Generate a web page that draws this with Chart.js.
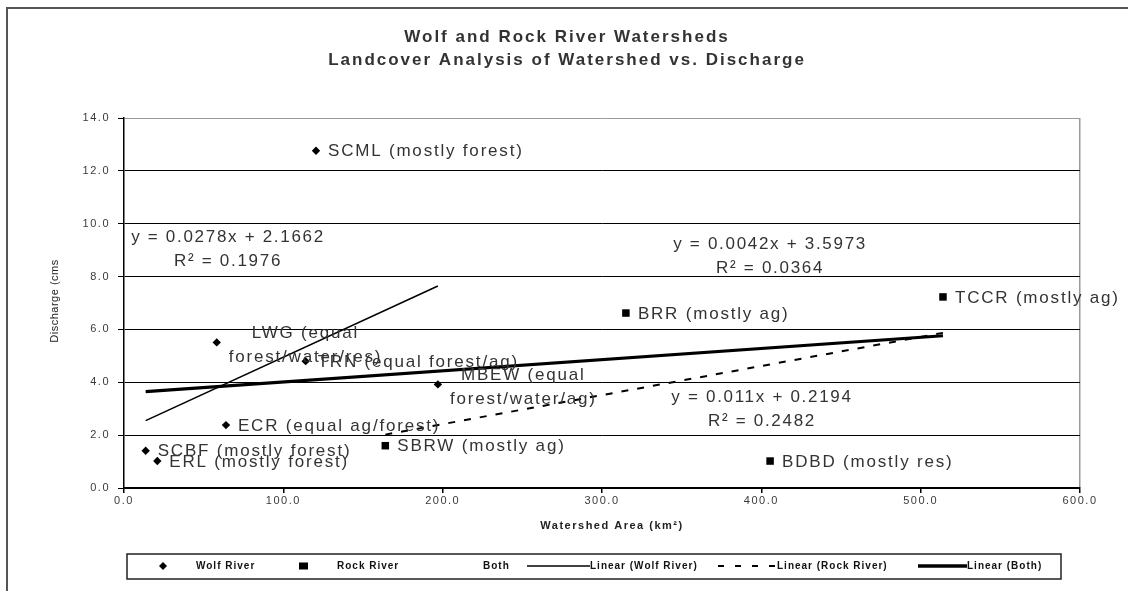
<!DOCTYPE html>
<html>
<head>
<meta charset="utf-8">
<script src="https://cdn.jsdelivr.net/npm/chart.js@4.4.0/dist/chart.umd.min.js"></script>
<style>
  body { margin: 0; background: #fff; }
  canvas { display: block; }
</style>
</head>
<body>
<canvas id="chart" width="1128" height="591"></canvas>
<script>
// values
const wolfNames = ["SCML (mostly forest)", "LWG (equal\nforest/water/res)", "TRN (equal forest/ag)", "MBEW (equal\nforest/water/ag)", "ECR (equal ag/forest)", "SCBF (mostly forest)", "ERL (mostly forest)"];
const wolfArea = [120.5, 58.2, 114.0, 197.0, 64.0, 13.6, 20.9];
const wolfDischarge = [12.76, 5.51, 4.80, 3.92, 2.38, 1.41, 1.02];

const rockNames = ["SBRW (mostly ag)", "BRR (mostly ag)", "TCCR (mostly ag)", "BDBD (mostly res)"];
const rockArea = [164.0, 315.0, 514.0, 405.5];
const rockDischarge = [1.60, 6.62, 7.23, 1.02];

// trendline ends as drawn
const wolfTrendX = [13.6, 197.0];
const wolfTrendY = [2.55, 7.64];
const rockTrendX = [164.0, 514.0];
const rockTrendY = [2.02, 5.87];
const bothTrendX = [13.6, 514.0];
const bothTrendY = [3.65, 5.76];

const wolfEquation = ["y = 0.0278x + 2.1662", "R² = 0.1976"];
const bothEquation = ["y = 0.0042x + 3.5973", "R² = 0.0364"];
const rockEquation = ["y = 0.011x + 0.2194", "R² = 0.2482"];

const xTicks = [0, 100, 200, 300, 400, 500, 600];
const yTicks = [0, 2, 4, 6, 8, 10, 12, 14];

const titleLines = ["Wolf and Rock River Watersheds", "Landcover Analysis of Watershed vs. Discharge"];
const xTitle = "Watershed Area (km²)";
const yTitle = "Discharge (cms";

const FONT = "'Liberation Sans', Arial, sans-serif";
const toPoints = (xs, ys) => xs.map((x, i) => ({ x, y: ys[i] }));

function drawPointLabels(chart, dsIndex, names) {
  const ctx = chart.ctx;
  const meta = chart.getDatasetMeta(dsIndex);
  ctx.save();
  ctx.font = "17px " + FONT;
  ctx.letterSpacing = "1.8px";
  ctx.fillStyle = "#333";
  ctx.textBaseline = "middle";
  ctx.textAlign = "left";
  meta.data.forEach((pt, i) => {
    const lines = names[i].split("\n");
    const widths = lines.map(l => ctx.measureText(l).width);
    const blockW = Math.max(...widths);
    const lh = 24;
    const shift = lines.length > 1 ? 3 : 1;
    lines.forEach((line, k) => {
      const y = pt.y + shift - (lines.length - 1) * lh / 2 + k * lh;
      ctx.fillText(line, pt.x + 12 + (blockW - widths[k]) / 2, y);
    });
  });
  ctx.restore();
}

function drawEquation(chart, lines, xVal, yVal) {
  const ctx = chart.ctx;
  const x = chart.scales.x.getPixelForValue(xVal);
  const y = chart.scales.y.getPixelForValue(yVal);
  ctx.save();
  ctx.font = "17px " + FONT;
  ctx.letterSpacing = "1.7px";
  ctx.fillStyle = "#333";
  ctx.textBaseline = "middle";
  ctx.textAlign = "center";
  lines.forEach((line, k) => ctx.fillText(line, x, y + k * 24));
  ctx.restore();
}

function drawLegend(chart) {
  const ctx = chart.ctx;
  const ds = chart.data.datasets;
  const y = 566;
  ctx.save();
  ctx.strokeStyle = "#222";
  ctx.lineWidth = 1.5;
  ctx.strokeRect(127, 554, 934, 25);
  ctx.fillStyle = "#000";
  ctx.strokeStyle = "#000";
  // diamond
  ctx.beginPath();
  ctx.moveTo(163, y - 4); ctx.lineTo(167, y); ctx.lineTo(163, y + 4); ctx.lineTo(159, y);
  ctx.closePath(); ctx.fill();
  // square
  ctx.fillRect(299, y - 3.5, 9, 7);
  // lines
  ctx.lineWidth = 1.5;
  ctx.beginPath(); ctx.moveTo(527, y); ctx.lineTo(590, y); ctx.stroke();
  ctx.lineWidth = 2;
  ctx.setLineDash([6, 11]);
  ctx.beginPath(); ctx.moveTo(718, y); ctx.lineTo(777, y); ctx.stroke();
  ctx.setLineDash([]);
  ctx.lineWidth = 3.5;
  ctx.beginPath(); ctx.moveTo(918, y); ctx.lineTo(967, y); ctx.stroke();

  ctx.font = "bold 10px " + FONT;
  ctx.letterSpacing = "1px";
  ctx.fillStyle = "#111";
  ctx.textBaseline = "middle";
  ctx.textAlign = "left";
  const textX = [196, 337, 483, 590, 777, 967];
  ds.forEach((d, i) => ctx.fillText(d.label, textX[i], y));
  ctx.restore();
}

const decor = {
  id: "decor",
  beforeDraw(chart) {
    const ctx = chart.ctx;
    ctx.save();
    ctx.strokeStyle = "#555";
    ctx.lineWidth = 2;
    ctx.beginPath();
    ctx.moveTo(7, 591); ctx.lineTo(7, 8); ctx.lineTo(1128, 8);
    ctx.stroke();
    ctx.restore();
    ctx.letterSpacing = "1.5px";
  },
  afterDatasetsDraw(chart) {
    drawPointLabels(chart, 0, wolfNames);
    drawPointLabels(chart, 1, rockNames);
    drawEquation(chart, wolfEquation, 65.3, 9.49);
    drawEquation(chart, bothEquation, 405.5, 9.23);
    drawEquation(chart, rockEquation, 400.4, 3.44);
  },
  afterDraw(chart) {
    const ctx = chart.ctx;
    ctx.save();
    ctx.fillStyle = "#333";
    ctx.textAlign = "center";
    ctx.textBaseline = "middle";
    ctx.font = "bold 17px " + FONT;
    ctx.letterSpacing = "2px";
    ctx.fillText(titleLines[0], 567, 37);
    ctx.fillText(titleLines[1], 567, 60);

    ctx.font = "bold 11px " + FONT;
    ctx.letterSpacing = "1.5px";
    ctx.fillStyle = "#222";
    ctx.fillText(xTitle, 612, 526);

    ctx.translate(55, 301);
    ctx.rotate(-Math.PI / 2);
    ctx.font = "11px " + FONT;
    ctx.letterSpacing = "0.5px";
    ctx.fillText(yTitle, 0, 0);
    ctx.restore();

    drawLegend(chart);
  }
};

new Chart(document.getElementById("chart"), {
  type: "scatter",
  data: {
    datasets: [
      {
        label: "Wolf River",
        data: toPoints(wolfArea, wolfDischarge),
        pointStyle: "rectRot",
        pointRadius: 4.2,
        backgroundColor: "#000",
        borderColor: "#000",
        borderWidth: 0
      },
      {
        label: "Rock River",
        data: toPoints(rockArea, rockDischarge),
        pointStyle: "rect",
        pointRadius: 5.3,
        backgroundColor: "#000",
        borderColor: "#000",
        borderWidth: 0
      },
      {
        label: "Both",
        data: toPoints(wolfArea.concat(rockArea), wolfDischarge.concat(rockDischarge)),
        pointRadius: 0
      },
      {
        label: "Linear (Wolf River)",
        data: toPoints(wolfTrendX, wolfTrendY),
        showLine: true,
        pointRadius: 0,
        borderColor: "#000",
        borderWidth: 1.6
      },
      {
        label: "Linear (Rock River)",
        data: toPoints(rockTrendX, rockTrendY),
        showLine: true,
        pointRadius: 0,
        borderColor: "#000",
        borderWidth: 2,
        borderDash: [7, 9]
      },
      {
        label: "Linear (Both)",
        data: toPoints(bothTrendX, bothTrendY),
        showLine: true,
        pointRadius: 0,
        borderColor: "#000",
        borderWidth: 3.2
      }
    ]
  },
  options: {
    responsive: false,
    animation: false,
    layout: { padding: { left: 64, right: 48, top: 118, bottom: 63 } },
    plugins: {
      legend: { display: false },
      tooltip: { enabled: false }
    },
    scales: {
      x: {
        type: "linear",
        min: 0,
        max: 600,
        afterFit: s => { s.height = 40; },
        afterBuildTicks: s => { s.ticks = xTicks.map(v => ({ value: v })); },
        ticks: {
          callback: v => v.toFixed(1),
          color: "#3a3a3a",
          padding: 1,
          maxRotation: 0,
          font: { size: 11, family: FONT }
        },
        grid: {
          color: c => (c.tick && c.tick.value === 600 ? "#9a9a9a" : "rgba(0,0,0,0)"),
          tickColor: "#000",
          tickLength: 5,
          lineWidth: 1.5
        },
        border: { color: "#000", width: 1.5 }
      },
      y: {
        type: "linear",
        min: 0,
        max: 14,
        afterFit: s => { s.width = 60; },
        afterBuildTicks: s => { s.ticks = yTicks.map(v => ({ value: v })); },
        ticks: {
          callback: v => v.toFixed(1),
          color: "#3a3a3a",
          padding: 8,
          font: { size: 11, family: FONT }
        },
        grid: {
          color: c => (c.tick && c.tick.value === 14 ? "#9a9a9a" : "#000"),
          tickColor: "#000",
          tickLength: 6,
          lineWidth: 1
        },
        border: { color: "#000", width: 1.5 }
      }
    }
  },
  plugins: [decor]
});
</script>
</body>
</html>
